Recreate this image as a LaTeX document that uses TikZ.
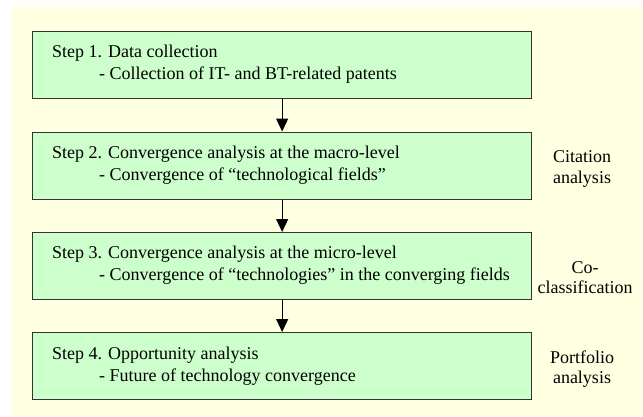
\documentclass[tikz,border=0pt]{standalone}
\usepackage{fontspec}
\setmainfont{Liberation Serif}
\newfontfamily\tnr{Liberation Serif}
\usetikzlibrary{arrows.meta}
\definecolor{cream}{HTML}{FFFFE2}
\definecolor{boxgreen}{HTML}{CCFFCC}
\definecolor{boxline}{HTML}{333333}
\begin{document}
\begin{tikzpicture}[x=1pt,y=-1pt,
  stepbox/.style={draw=boxline, fill=boxgreen, line width=1.3pt, minimum width=499pt, minimum height=67pt, anchor=north west, inner sep=0pt},
  txt/.style={anchor=base west, inner sep=0pt, font=\tnr\fontsize{18}{21}\selectfont},
  side/.style={anchor=base, inner sep=0pt, font=\tnr\fontsize{18}{21}\selectfont},
  arr/.style={line width=1pt, -{Triangle[length=13pt,width=12pt]}}]
\useasboundingbox (0,0) rectangle (643,416);
\fill[cream] (11,7) rectangle (643,416);
\node[stepbox] (b1) at (32,31) {};
\node[stepbox] (b2) at (32,131.5) {};
\node[stepbox] (b3) at (32,232) {};
\node[stepbox] (b4) at (32,332) {};
\node[txt] (t1a) at (52,57) {Step 1. Data collection};
\node[txt] (t1b) at (99,79) {- Collection of IT- and BT-related patents};
\node[txt] (t2a) at (52,158) {Step 2. Convergence analysis at the macro-level};
\node[txt] (t2b) at (99,180) {- Convergence of “technological fields”};
\node[txt] (t3a) at (52,258) {Step 3. Convergence analysis at the micro-level};
\node[txt] (t3b) at (99,280) {- Convergence of “technologies” in the converging fields};
\node[txt] (t4a) at (52,359) {Step 4. Opportunity analysis};
\node[txt] (t4b) at (99,381) {- Future of technology convergence};
\node[side] (s2a) at (582,162) {Citation};
\node[side] (s2b) at (582,183) {analysis};
\node[side] (s3a) at (585,273) {Co-};
\node[side] (s3b) at (585,293) {classification};
\node[side] (s4a) at (582,363) {Portfolio};
\node[side] (s4b) at (582,383) {analysis};
\draw[arr] (b1.south) -- (b2.north);
\draw[arr] (b2.south) -- (b3.north);
\draw[arr] (b3.south) -- (b4.north);
\end{tikzpicture}
\end{document}
